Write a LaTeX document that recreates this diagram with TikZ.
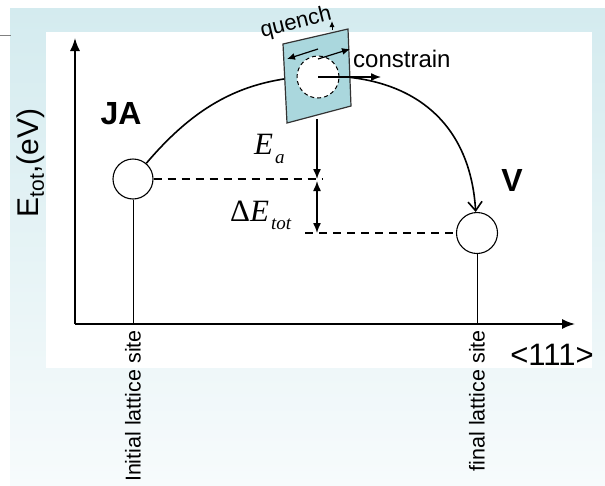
\documentclass[tikz,border=0pt]{standalone}
\usepackage{fontspec}
\setmainfont{Liberation Sans}
\newfontfamily\timesfont{Liberation Serif}
\usetikzlibrary{arrows.meta,calc}
\definecolor{boxblue}{RGB}{170,215,221}
\definecolor{bgtop}{RGB}{212,235,239}
\definecolor{bgbot}{RGB}{247,251,252}

\begin{document}
\begin{tikzpicture}[x=1pt,y=-1pt]
\tikzset{
  site/.style={draw,circle,inner sep=0pt,minimum size=40pt,line width=1.1pt},
  axis/.style={line width=1.6pt,-{Latex[length=13pt,width=10pt]}},
  dashline/.style={dash pattern=on 8pt off 6pt,line width=1.3pt},
  thinline/.style={line width=0.8pt},
  tip/.style={line width=1.4pt,-{Latex[length=10pt,width=8pt]}},
  lbl/.style={font=\fontsize{21.5}{24}\selectfont,inner sep=0pt},
  big/.style={font=\fontsize{32}{34}\selectfont\bfseries,inner sep=0pt},
  mathlbl/.style={font=\fontsize{31}{33}\selectfont\timesfont,inner sep=0pt}
}
\useasboundingbox (0,0) rectangle (605,485);
% background
\shade[top color=bgtop,bottom color=bgbot] (10,8) rectangle (605,485);
\fill[white] (46,32) rectangle (592,368);
\draw[gray,line width=0.8pt] (0,35) -- (11,35);

% axes
\coordinate (o) at (75,324);
\coordinate (xend) at (575,324);
\coordinate (yend) at (75,38);
\draw[axis] (o) -- (xend);
\draw[axis] (o) -- (yend);
\node[font=\fontsize{31}{33}\selectfont,inner sep=0pt] (dir) at (552,355) {<111>};
\node[font=\fontsize{30}{32}\selectfont,inner sep=0pt,rotate=90] (elbl) at (31,163) {E\textsubscript{tot},(eV)};

% sites
\node[site] (ja) at (133,179) {};
\node[site,minimum size=41pt] (v) at (477,233) {};
\node[big] (jalbl) at (121,114) {JA};
\node[big] (vlbl) at (512,180) {V};
\draw[thinline] (ja) -- (ja |- o);
\draw[thinline] (v) -- (v |- o);
\node[lbl,rotate=90,anchor=east] (initlbl) at ($(ja |- o)+(0,6)$) {Initial lattice site};
\node[lbl,rotate=90,anchor=east] (finlbl) at ($(v |- o)+(0,6)$) {final lattice site};

% path over the barrier
\draw[line width=1.6pt,-{Straight Barb[length=9pt,width=14pt]}]
  (ja) .. controls (200,100) and (250,78) .. (318,76)
       .. controls (410,74) and (470,120) .. (v);

% the box
\filldraw[fill=boxblue,draw=black!80,line width=1.2pt] (283,44) -- (348,29) -- (351,106) -- (287,123) -- cycle;
\node[draw,circle,dash pattern=on 4pt off 3pt,fill=white,minimum size=42pt,inner sep=0pt,line width=1pt] (hole) at (318,77) {};
\coordinate (qa) at (318,49);
\coordinate (qb) at (287,59);
\coordinate (qc) at (318,59);
\coordinate (qd) at (350,49);
\draw[line width=1.2pt,-{Latex[length=8pt,width=7pt]}] (qa) -- (qb);
\draw[line width=1.2pt,-{Latex[length=8pt,width=7pt]}] (qc) -- (qd);
\coordinate (qbase) at (332,30);
\coordinate (qtop) at (332,21);
\draw[line width=1pt,-{Latex[length=6pt,width=5pt]}] (qbase) -- (qtop);
\node[font=\fontsize{22}{24}\selectfont,rotate=14,inner sep=0pt] (quench) at (296,23) {quench};
\coordinate (cend) at (381,77);
\draw[tip] (hole.center) -- (cend);
\node[font=\fontsize{24}{26}\selectfont,anchor=base west,inner sep=0pt] (constr) at (353,67) {constrain};

% energies
\coordinate (boxbot) at (317,119);
\coordinate (mid) at (317,179);
\coordinate (midb) at (317,181);
\coordinate (low) at (317,233);
\coordinate (dashA) at (323,179);
\coordinate (dashB) at (305,233);
\draw[dashline] (ja) -- (dashA);
\draw[dashline] (dashB) -- (v);
\draw[tip] (boxbot) -- (mid);
\draw[tip,{Latex[length=10pt,width=8pt]}-{Latex[length=10pt,width=8pt]}] (midb) -- (low);
\node[mathlbl,anchor=base west] (ea) at (254,154) {\textit{E}\hspace{2pt}\raisebox{-9pt}{\fontsize{19}{19}\selectfont\textit{a}}};
\node[mathlbl,anchor=base west] (dea) at (230,221) {Δ\textit{E}\hspace{2pt}\raisebox{-8pt}{\fontsize{19}{19}\selectfont\textit{tot}}};
\end{tikzpicture}
\end{document}
